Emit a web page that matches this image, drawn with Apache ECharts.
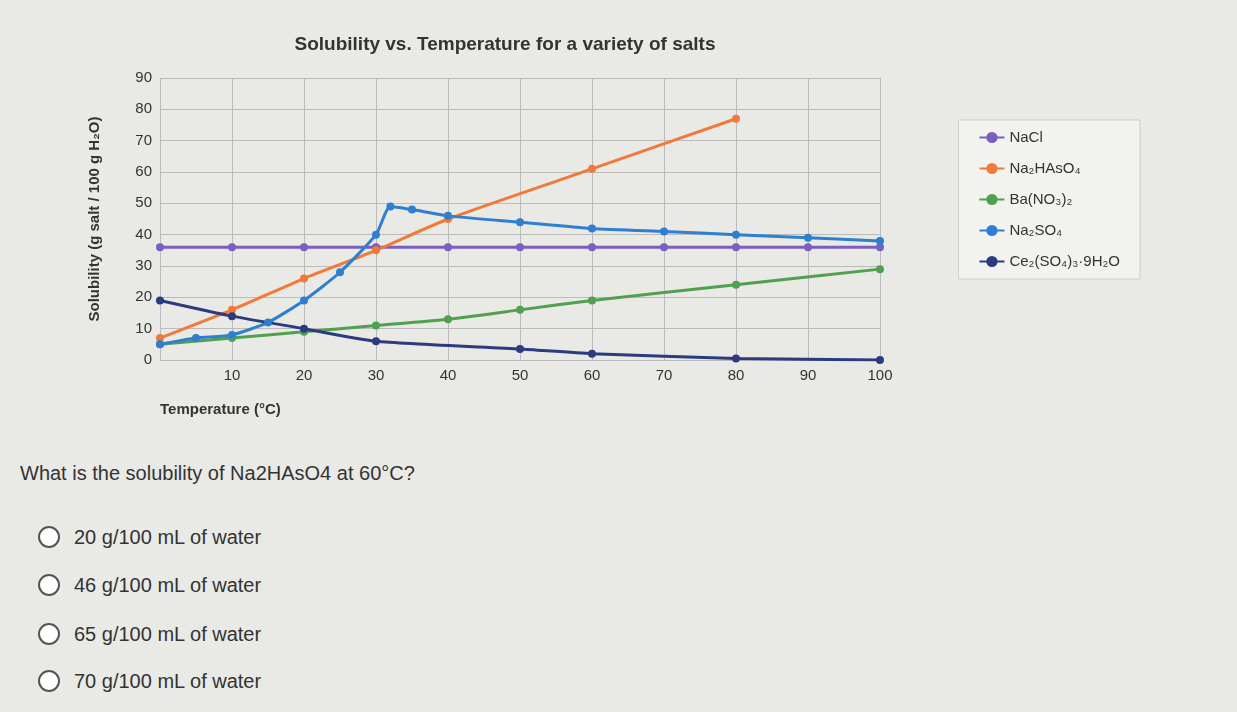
<!DOCTYPE html>
<html><head><meta charset="utf-8">
<script src="https://cdn.jsdelivr.net/npm/echarts@6/dist/echarts.min.js"></script>
<style>
body{margin:0;background:#e9e9e6;font-family:"Liberation Sans",Arial,sans-serif;}
#c{position:absolute;left:0;top:0;width:1237px;height:430px;}
#q{position:absolute;left:20px;top:462px;font-size:20px;color:#333;}
.o{position:absolute;left:38px;font-size:20px;color:#333;}
.o span{display:inline-block;width:18px;height:18px;border:2px solid #555;border-radius:50%;vertical-align:-4px;margin-right:14px;background:#fff;}
</style></head><body>
<div id="c"></div>
<div id="q">What is the solubility of Na2HAsO4 at 60°C?</div>
<div class="o" style="top:526px"><span></span>20 g/100 mL of water</div>
<div class="o" style="top:574px"><span></span>46 g/100 mL of water</div>
<div class="o" style="top:623px"><span></span>65 g/100 mL of water</div>
<div class="o" style="top:670px"><span></span>70 g/100 mL of water</div>
<script>
const names=['NaCl','Na₂HAsO₄','Ba(NO₃)₂','Na₂SO₄','Ce₂(SO₄)₃·9H₂O'];
const colors=['#7a5fc0','#f07a3a','#4fa04f','#2f7fd0','#2c3b80'];
const nacl=[[0,36],[10,36],[20,36],[30,36],[40,36],[50,36],[60,36],[70,36],[80,36],[90,36],[100,36]];
const na2hasO4=[[0,7],[10,16],[20,26],[30,35],[40,45],[60,61],[80,77]];
const baNO3=[[0,5],[10,7],[20,9],[30,11],[40,13],[50,16],[60,19],[80,24],[100,29]];
const na2SO4=[[0,5],[5,7],[10,8],[15,12],[20,19],[25,28],[30,40],[32,49],[35,48],[40,46],[50,44],[60,42],[70,41],[80,40],[90,39],[100,38]];
const ce2SO4=[[0,19],[10,14],[20,10],[30,6],[50,3.5],[60,2],[80,0.5],[100,0]];
const all=[nacl,na2hasO4,baNO3,na2SO4,ce2SO4];
const ch=echarts.init(document.getElementById('c'));
ch.setOption({
 title:{text:'Solubility vs. Temperature for a variety of salts',left:500,top:30,textAlign:'center',textStyle:{fontSize:19,fontWeight:'bold',color:'#333'}},
 grid:{left:160,right:357,top:78,bottom:70},
 legend:{orient:'vertical',right:97,top:120,itemGap:16,backgroundColor:'#f2f2ef',borderColor:'#ccc',borderWidth:1,padding:[10,20,10,20],textStyle:{fontSize:15,color:'#333'},data:names},
 xAxis:{type:'value',min:0,max:100,interval:10,name:'Temperature (°C)',nameLocation:'start',nameGap:0,nameTextStyle:{fontSize:15,fontWeight:'bold',color:'#333',padding:[42,0,0,0],align:'left',verticalAlign:'top'},
   axisLabel:{fontSize:15,color:'#333',formatter:v=>v===0?'':v},axisLine:{show:false},axisTick:{show:false},splitLine:{lineStyle:{color:'#bbb'}}},
 yAxis:{type:'value',min:0,max:90,interval:10,name:'Solubility (g salt / 100 g H₂O)',nameLocation:'middle',nameGap:58,nameTextStyle:{fontSize:15,fontWeight:'bold',color:'#333'},
   axisLabel:{fontSize:15,color:'#333'},axisLine:{show:false},axisTick:{show:false},splitLine:{lineStyle:{color:'#bbb'}}},
 series:all.map((d,i)=>({name:names[i],type:'line',data:d,smooth:0.2,symbol:'circle',symbolSize:8,itemStyle:{color:colors[i]},lineStyle:{width:3,color:colors[i]}}))
});
</script></body></html>
